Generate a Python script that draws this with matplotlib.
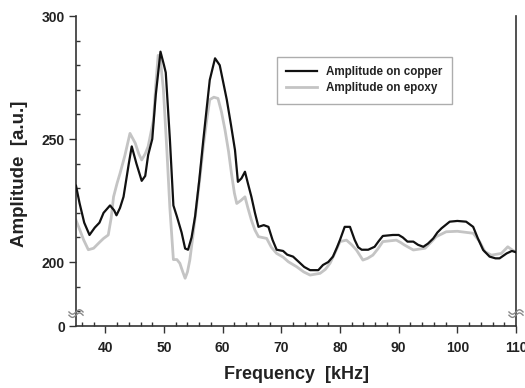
import numpy as np
import matplotlib
matplotlib.use("Agg")
import matplotlib.pyplot as plt
from matplotlib.ticker import MultipleLocator, FixedLocator
import matplotlib.transforms as mtransforms

# ---------------- data ----------------
copper_f = [35.0, 35.6, 36.4, 37.3, 38.2, 39.0, 39.7, 40.8, 41.5, 41.9, 42.5, 43.1, 44.0, 44.5,
            45.3, 46.2, 46.8, 47.3, 48.0, 48.6, 49.4, 50.0, 50.3, 51.0, 51.6, 52.2, 53.0, 53.6,
            54.1, 54.7, 55.3, 56.0, 56.7, 57.3, 57.8, 58.7, 59.5, 60.1, 60.7, 61.4, 62.1, 62.6,
            63.2, 63.8, 64.3, 64.9, 65.5, 66.1, 67.0, 67.8, 68.5, 69.2, 70.3, 71.0, 72.0, 73.0,
            73.9, 74.9, 76.3, 77.1, 78.0, 78.8, 79.5, 80.0, 80.8, 81.7, 82.5, 83.1, 83.7, 84.8,
            85.9, 86.6, 87.3, 89.0, 90.0, 90.7, 91.5, 92.5, 93.3, 94.2, 95.0, 95.9, 96.6, 97.3,
            98.7, 100.0, 101.5, 102.7, 103.5, 104.4, 105.5, 106.5, 107.2, 108.4, 109.3, 110.0]
copper_a = [231, 224, 216, 211, 214, 216, 220, 223, 221, 219, 222, 226.5, 240, 247,
            240, 233, 235, 243.5, 250, 268, 285.5, 280, 277, 250, 223, 218.5, 212, 205.5,
            205, 210, 218.5, 233, 249.6, 263, 274, 282.8, 280, 273, 266, 256, 245.5, 232.6,
            234, 236.7, 232, 226.5, 220, 214.3, 215, 214.3, 209, 205, 204.5, 203, 202.2, 200,
            198, 196.7, 196.7, 198.8, 200, 202.2, 206, 209, 214.3, 214.3, 209, 206, 205, 205,
            206.2, 208.5, 210.6, 211, 211, 210, 208.3, 208.3, 207, 206.2, 207.5, 209.6, 212, 213.7,
            216.4, 216.7, 216.4, 214.3, 209.6, 204.9, 202.2, 201.5, 201.5, 203.5, 204.5, 204]

epoxy_f = [35.0, 35.5, 36.3, 37.1, 38.0, 39.0, 39.7, 40.5, 41.0, 41.4, 42.0, 42.5, 43.3, 44.2,
           45.1, 45.7, 46.2, 46.8, 47.3, 48.2, 48.6, 49.0, 49.4, 49.9, 50.5, 51.0, 51.6, 52.2,
           52.7, 53.2, 53.6, 54.0, 54.4, 55.0, 55.6, 56.2, 56.7, 57.3, 57.8, 58.5, 59.2, 59.8,
           60.4, 61.0, 61.5, 62.0, 62.4, 63.1, 63.8, 64.3, 64.9, 65.5, 66.1, 67.5, 68.3, 69.2,
           70.3, 71.2, 72.6, 73.8, 74.9, 76.6, 77.5, 78.3, 79.2, 80.0, 81.1, 82.0, 82.8, 83.9,
           84.7, 85.6, 86.5, 87.3, 89.6, 90.3, 91.0, 92.5, 94.5, 95.5, 96.4, 98.1, 100.0, 102.7,
           103.8, 104.7, 105.8, 107.5, 108.6, 109.3, 110.0]
epoxy_a = [217, 214, 209, 205, 205.6, 208, 209.6, 211, 218, 226.5, 232, 236, 243, 252.3,
           248.3, 244, 241.5, 244, 247, 257.7, 272, 284, 282, 270, 245, 222, 201, 201,
           199.5, 196, 193.4, 196, 200.8, 212, 223.8, 236, 246.9, 258, 266, 267, 266.5, 261,
           253.7, 245, 236, 228, 223.8, 225, 226.5, 222, 217, 213, 210.3, 209.6, 206, 203.5,
           202, 200.1, 198.1, 196, 194.7, 195.4, 197, 199.5, 204, 208.3, 208.9, 207, 204.9, 200.8,
           201.5, 202.8, 205.5, 208.3, 208.9, 208, 206.9, 204.9, 205.6, 208, 210.3, 212.3, 212.5, 211.7,
           208.3, 204.2, 202.8, 203.5, 206.2, 205, 204]

x_ticks = [40, 50, 60, 70, 80, 90, 100, 110]
y_ticks = [174, 200, 250, 300]          # bottom of the broken axis is labelled 0
y_ticklabels = ["0", "200", "250", "300"]
labels = ["Amplitude on copper", "Amplitude on epoxy"]

# ---------------- figure ----------------
plt.rcParams['font.family'] = ['Liberation Sans', 'DejaVu Sans']
plt.rcParams['font.weight'] = 'bold'
txt = '#222222'

fig = plt.figure(figsize=(5.25, 3.88), dpi=100)
ax = fig.add_axes([76/525, 1-326/388, 440/525, 310/388])

ax.plot(epoxy_f, epoxy_a, color='#c4c4c4', lw=2.0, label=labels[1], zorder=2)
ax.plot(copper_f, copper_a, color='#111111', lw=1.6, label=labels[0], zorder=3)

ax.set_xlim(35, 110)
ax.set_ylim(174, 300)

ax.xaxis.set_major_locator(FixedLocator(x_ticks))
ax.xaxis.set_minor_locator(MultipleLocator(2))
ax.yaxis.set_major_locator(FixedLocator(y_ticks))
ax.set_yticklabels(y_ticklabels)
ax.yaxis.set_minor_locator(FixedLocator([180, 190, 210, 220, 230, 240, 260, 270, 280, 290]))

ax.tick_params(axis='both', which='major', direction='out', length=5, width=1,
               labelsize=10, labelcolor=txt, color='#333333')
ax.tick_params(axis='x', which='major', pad=6)
ax.tick_params(axis='y', which='major', pad=3)
ax.tick_params(axis='both', which='minor', direction='in', length=3, width=1, color='#333333')
for lab in ax.get_xticklabels() + ax.get_yticklabels():
    lab.set_fontweight('bold')

for s in ax.spines.values():
    s.set_linewidth(1.2)
    s.set_color('#333333')
ax.spines['top'].set_visible(False)

ax.set_xlabel("Frequency  [kHz]", fontsize=13, fontweight='bold', color=txt)
ax.xaxis.set_label_coords(0.5, -0.128)
ax.set_ylabel("Amplitude  [a.u.]", fontsize=13.5, fontweight='bold', color=txt)
ax.yaxis.set_label_coords(-0.108, 0.49)

leg = ax.legend(handles=[ax.lines[1], ax.lines[0]], loc='upper left',
                bbox_to_anchor=(0.457, 0.868), fontsize=8.4, frameon=True,
                fancybox=False, handlelength=2.6, borderpad=0.8, labelspacing=0.35,
                handletextpad=0.8, borderaxespad=0)
leg.get_frame().set_edgecolor('#999999')
leg.get_frame().set_linewidth(1.0)
for t in leg.get_texts():
    t.set_fontweight('bold')
    t.set_color(txt)

# axis break marks on both vertical spines
trans = mtransforms.blended_transform_factory(ax.transAxes, ax.transData)
tt = np.linspace(-1, 1, 20)
for x0 in (0.0, 1.0):
    for dy in (0.0, 1.3):
        ax.plot(x0 + 0.016 * tt, 178.4 + dy + 0.9 * np.sin(np.pi * tt),
                transform=trans, color='#888888', lw=1.0, clip_on=False, zorder=5)

fig.savefig("out.png", dpi=100)
